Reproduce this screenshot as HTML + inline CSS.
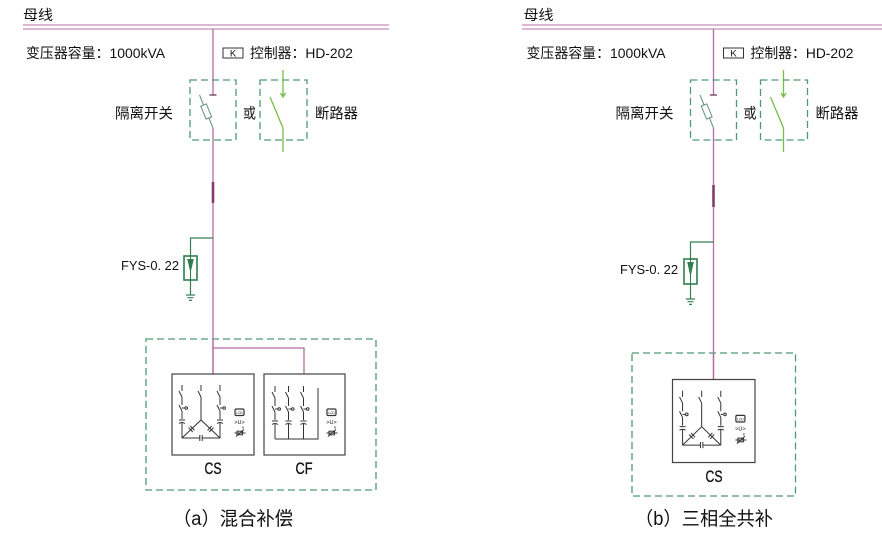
<!DOCTYPE html>
<html><head><meta charset="utf-8"><style>
html,body{margin:0;padding:0;background:#fff;}
svg{display:block;}
text{fill:#111;}
</style></head><body>
<svg width="882" height="538" viewBox="0 0 882 538" xmlns="http://www.w3.org/2000/svg" font-family="'Liberation Sans','Noto Sans CJK SC',sans-serif">
<defs>
  <g id="ph" stroke="#333" fill="none" stroke-width="1">
    <path d="M0 11V17 M-3 17L0 23 M0 23V31 M-3 31L0 37 M0 34H2.5 M0 37V45 M-3 46H3 M-3 49.5Q0 47.5 3 49.5 M0 49V64"/>
    <circle cx="4.2" cy="34" r="1.3"/>
  </g>
  <g id="icons">
    <rect x="63" y="35" width="9" height="6.5" rx="1.2" fill="none" stroke="#333" stroke-width="1.2"/>
    <text x="67.5" y="40" font-size="3.2" text-anchor="middle">LCD</text>
    <text x="67.5" y="50" font-size="5.5" text-anchor="middle">&gt;U&gt;</text>
    <g stroke="#333" fill="none" stroke-width="1">
      <path d="M62.5 59H73.5 M64 62.5L72 55.5 M71 54.5V52.5"/>
      <rect x="65" y="57.2" width="5.5" height="3.6"/>
    </g>
  </g>
  <g id="cs">
    <rect x="0" y="0" width="82" height="81" fill="#fff" stroke="#444" stroke-width="1.2"/>
    <use href="#ph" x="10" y="0"/>
    <use href="#ph" x="48" y="0"/>
    <g stroke="#333" fill="none" stroke-width="1">
      <path d="M29 11V17 M26 17L29 23 M29 23V46"/>
      <path d="M10 64L29 46L48 64 M10 64H27.8 M30.2 64H48"/>
      <path d="M27.8 61V67 M30.2 61V67"/>
      <path d="M16.56 53.64L20.7 58 M18.3 52L22.44 56.36"/>
      <path d="M35.57 56.36L39.69 52 M37.31 58L41.43 53.64"/>
    </g>
    <use href="#icons"/>
  </g>
  <g id="upper">
    <path d="M213 29V95" stroke="#b46ca4" stroke-width="1.3" fill="none"/>
    <path d="M209.5 95H216.5" stroke="#6a3a5a" stroke-width="1.3"/>
    <path d="M199.5 95L213 128" stroke="#5f8f80" stroke-width="1" fill="none"/>
    <g transform="translate(206.2 111.5) rotate(-22.5)">
      <rect x="-3" y="-7" width="6" height="14" fill="#fff" stroke="#5f8f80" stroke-width="1"/>
    </g>
    <rect x="190" y="80" width="46" height="60" fill="none" stroke="#4e9a73" stroke-width="1.3" stroke-dasharray="7 4"/>
    <rect x="260" y="80" width="47" height="60" fill="none" stroke="#4e9a73" stroke-width="1.3" stroke-dasharray="7 4"/>
    <g stroke="#78bd48" stroke-width="1.3" fill="none">
      <path d="M283 70V97 M280.5 93L283 97L285.5 93"/>
      <path d="M270 97L283 128 M283 128V152"/>
    </g>
    <rect x="223" y="48" width="20" height="10" fill="#fff" stroke="#333" stroke-width="1"/>
    <text x="233" y="56.5" font-size="9.5" text-anchor="middle">K</text>
    <text x="23" y="20" font-size="14" textLength="30" lengthAdjust="spacingAndGlyphs">母线</text>
    <text x="26" y="58" font-size="14" textLength="139" lengthAdjust="spacingAndGlyphs">变压器容量：1000kVA</text>
    <text x="250" y="58" font-size="14" textLength="103" lengthAdjust="spacingAndGlyphs">控制器：HD-202</text>
    <text x="115" y="118.5" font-size="14.5" textLength="58" lengthAdjust="spacingAndGlyphs">隔离开关</text>
    <text x="243" y="118.5" font-size="14.5" textLength="13" lengthAdjust="spacingAndGlyphs">或</text>
    <text x="315" y="118.5" font-size="14.5" textLength="43" lengthAdjust="spacingAndGlyphs">断路器</text>
  </g>
</defs>

<g stroke="#c98cbc" stroke-width="1.3">
  <path d="M23 25H389 M23 29H389"/>
  <path d="M522 25H882 M522 29H882"/>
</g>

<!-- ===== LEFT (a) ===== -->
<use href="#upper"/>
<path d="M213 128V374 M213 348H304V374" stroke="#b46ca4" stroke-width="1.3" fill="none"/>
<path d="M213 182V203" stroke="#873a6c" stroke-width="2.6"/>
<g stroke="#3a7d58" stroke-width="1.2" fill="none">
  <path d="M213 238H190.5V256"/>
  <path d="M190.5 280V295 M186 295H195 M187.5 297.7H193.5 M189 300.4H192"/>
</g>
<rect x="184" y="256" width="13" height="24" fill="#fff" stroke="#2e7d4f" stroke-width="1.6"/>
<path d="M190.5 256V280" stroke="#2e7d4f" stroke-width="1"/>
<polygon points="187.2,259 193.8,259 190.5,273" fill="#2e7d4f"/>
<text x="121" y="270" font-size="13" textLength="58" lengthAdjust="spacingAndGlyphs">FYS-0. 22</text>
<rect x="146" y="339" width="230" height="151" fill="none" stroke="#4e9a73" stroke-width="1.3" stroke-dasharray="7 4"/>
<path d="M213 339V374" stroke="#b46ca4" stroke-width="1.3"/>
<use href="#cs" x="172" y="374"/>
<g transform="translate(264 374)">
  <rect x="0" y="0" width="81" height="81" fill="#fff" stroke="#444" stroke-width="1.2"/>
  <use href="#ph" x="11" y="1"/>
  <use href="#ph" x="24.5" y="1"/>
  <use href="#ph" x="39.5" y="1"/>
  <path d="M11 65H54V14" stroke="#333" stroke-width="1" fill="none"/>
  <use href="#icons"/>
</g>
<text x="204.5" y="474" font-size="16.5" textLength="17" lengthAdjust="spacingAndGlyphs" stroke="#111" stroke-width="0.35">CS</text>
<text x="295.5" y="474" font-size="16.5" textLength="17" lengthAdjust="spacingAndGlyphs" stroke="#111" stroke-width="0.35">CF</text>
<text x="173" y="525" font-size="19" textLength="120" lengthAdjust="spacingAndGlyphs">（a）混合补偿</text>

<!-- ===== RIGHT (b) ===== -->
<use href="#upper" x="500.5" y="0"/>
<path d="M713.5 128V379.5" stroke="#b46ca4" stroke-width="1.3" fill="none"/>
<path d="M713.5 185V207" stroke="#873a6c" stroke-width="2.6"/>
<g stroke="#3a7d58" stroke-width="1.2" fill="none">
  <path d="M713.5 242H690.5V259"/>
  <path d="M690.5 284V299 M686 299H695 M687.5 301.7H693.5 M689 304.4H692"/>
</g>
<rect x="684" y="259" width="13" height="25" fill="#fff" stroke="#2e7d4f" stroke-width="1.6"/>
<path d="M690.5 259V284" stroke="#2e7d4f" stroke-width="1"/>
<polygon points="687.2,262 693.8,262 690.5,277" fill="#2e7d4f"/>
<text x="620" y="274" font-size="13" textLength="58" lengthAdjust="spacingAndGlyphs">FYS-0. 22</text>
<rect x="632" y="353" width="163.5" height="143" fill="none" stroke="#4e9a73" stroke-width="1.3" stroke-dasharray="7 4"/>
<path d="M713.5 353V379.5" stroke="#b46ca4" stroke-width="1.3"/>
<g transform="translate(672.5 379.5) scale(1.006 1.025)">
  <use href="#cs"/>
</g>
<text x="705.5" y="482" font-size="16.5" textLength="17" lengthAdjust="spacingAndGlyphs" stroke="#111" stroke-width="0.35">CS</text>
<text x="635" y="525" font-size="19" textLength="138" lengthAdjust="spacingAndGlyphs">（b）三相全共补</text>
</svg>
</body></html>
